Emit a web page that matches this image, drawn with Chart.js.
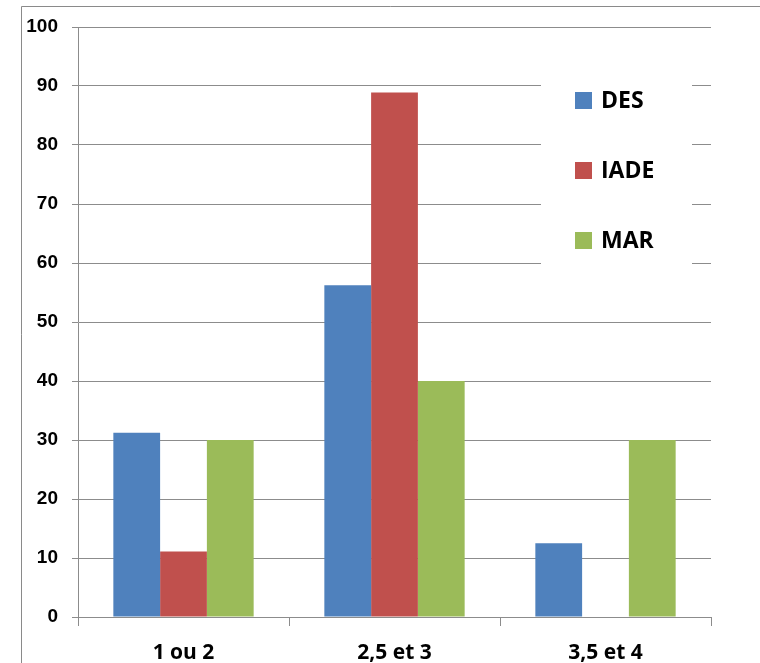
<!DOCTYPE html>
<html>
<head>
<meta charset="utf-8">
<script src="https://cdn.jsdelivr.net/npm/chart.js@4.4.0/dist/chart.umd.min.js"></script>
<style>
  html, body { margin: 0; padding: 0; background: #fff; }
  #wrap { width: 760px; height: 663px; }
</style>
</head>
<body>
<div id="wrap"><canvas id="barChart"></canvas></div>
<script>
// ===== DATA =====
const categories = ["1 ou 2", "2,5 et 3", "3,5 et 4"];
const desValues = [31.25, 56.25, 12.5];
const iadeValues = [11.1, 88.9, 0];
const marValues = [30, 40, 30];
const yTicks = [0, 10, 20, 30, 40, 50, 60, 70, 80, 90, 100];

const gridGray = "#8c8c8c";

// frame around the picture
const framePlugin = {
    id: "frame",
    beforeDraw(chart) {
        const ctx = chart.ctx;
        ctx.save();
        ctx.strokeStyle = "#8a8a8a";
        ctx.lineWidth = 1;
        ctx.beginPath();
        ctx.moveTo(21.5, 663);
        ctx.lineTo(21.5, 6.5);
        ctx.lineTo(760, 6.5);
        ctx.stroke();
        ctx.restore();
    }
};

// legend sits inside the plot, on a white box that hides the gridlines
const insideLegend = {
    id: "insideLegend",
    beforeDatasetsDraw(chart) {
        const ctx = chart.ctx;
        ctx.save();
        ctx.fillStyle = "#fff";
        ctx.fillRect(541, 78, 151, 192);
        ctx.restore();
    },
    afterDraw(chart) {
        const ctx = chart.ctx;
        ctx.save();
        ctx.font = "bold 23px 'Open Sans'";
        ctx.textBaseline = "middle";
        chart.data.datasets.forEach((ds, i) => {
            const cy = 100.5 + i * 70;
            ctx.fillStyle = ds.backgroundColor;
            ctx.fillRect(575, cy - 8.5, 17, 17);
            ctx.fillStyle = "#000";
            ctx.fillText(ds.label, 601, cy + 1);
        });
        ctx.restore();
    }
};

const ctx = document.getElementById("barChart").getContext("2d");

let barChart = new Chart(ctx, {
    type: "bar",
    data: {
        labels: categories,
        datasets: [
            { label: "DES", data: desValues, backgroundColor: "#4F81BD" },
            { label: "IADE", data: iadeValues, backgroundColor: "#C0504D" },
            { label: "MAR", data: marValues, backgroundColor: "#9BBB59" }
        ]
    },
    options: {
        responsive: true,
        maintainAspectRatio: false,
        animation: false,
        layout: { padding: { left: 0, right: 49, top: 27, bottom: 0 } },
        datasets: {
            bar: { barPercentage: 1.0, categoryPercentage: 0.665 }
        },
        plugins: {
            legend: { display: false },
            tooltip: { enabled: false }
        },
        scales: {
            x: {
                grid: {
                    offset: true,
                    drawOnChartArea: false,
                    drawTicks: true,
                    tickLength: 9,
                    color: gridGray
                },
                border: { color: gridGray },
                ticks: {
                    color: "#000",
                    padding: 14,
                    font: { family: "'Open Sans'", size: 21, weight: "bold" }
                },
                afterFit(scale) { scale.height = 46; }
            },
            y: {
                min: 0,
                max: 100,
                afterBuildTicks(scale) {
                    scale.ticks = yTicks.map(v => ({ value: v }));
                },
                grid: { color: gridGray, tickLength: 6 },
                border: { color: gridGray },
                ticks: {
                    color: "#000",
                    padding: 14,
                    font: { family: "'Liberation Sans'", size: 19, weight: "bold" }
                },
                afterFit(scale) { scale.width = 78; }
            }
        }
    },
    plugins: [framePlugin, insideLegend]
});
</script>
</body>
</html>
